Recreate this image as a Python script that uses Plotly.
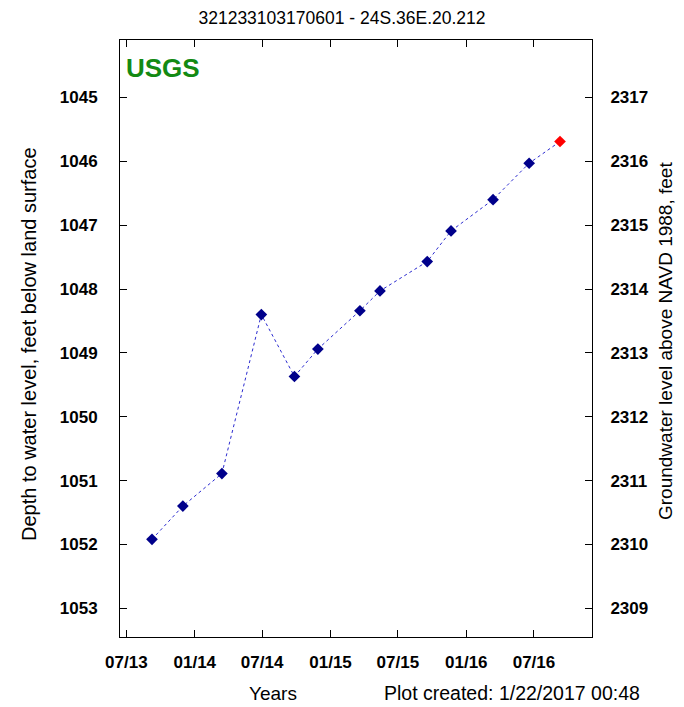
import plotly.graph_objects as go

# Data
dates = ["2013-09-08", "2013-11-30", "2014-03-15", "2014-06-29", "2014-09-26",
         "2014-11-28", "2015-03-21", "2015-05-14", "2015-09-18", "2015-11-21",
         "2016-03-13", "2016-06-18", "2016-09-09"]
depth = [1051.92, 1051.40, 1050.89, 1048.40, 1049.37, 1048.94, 1048.34,
         1048.03, 1047.57, 1047.09, 1046.60, 1046.03, 1045.69]
status = ["A"] * 12 + ["P"]  # last point provisional (red)
land_surface = 3362.0

x_tickvals = ["2013-07-01", "2014-01-01", "2014-07-01", "2015-01-01",
              "2015-07-01", "2016-01-01", "2016-07-01"]
x_ticktext = ["07/13", "01/14", "07/14", "01/15", "07/15", "01/16", "07/16"]
depth_ticks = [1045, 1046, 1047, 1048, 1049, 1050, 1051, 1052, 1053]
elev_ticks = [2309, 2310, 2311, 2312, 2313, 2314, 2315, 2316, 2317]

FONT = "Liberation Sans, Arial, sans-serif"
marker_colors = ["#00008B" if s == "A" else "#FF0000" for s in status]
elevation = [land_surface - d for d in depth]

# page body has an 8px margin; figure content is shifted to compensate
OFF = 8
W, H = 684, 707
ML, MT = 120 - OFF, 40 - OFF
MR = W - (592 - OFF)
MB = H - (637 - OFF)

fig = go.Figure()
fig.add_trace(go.Scatter(
    x=dates, y=depth, mode="lines+markers",
    line=dict(color="#2b2bd0", width=1, dash="dot"),
    marker=dict(symbol="diamond", size=9, color=marker_colors),
    showlegend=False, hoverinfo="x+y"))
fig.add_trace(go.Scatter(
    x=dates, y=elevation, yaxis="y2", mode="lines",
    line=dict(width=0, color="rgba(0,0,0,0)"), showlegend=False, hoverinfo="skip"))

tickfont = dict(family=FONT, size=17, color="black", weight="bold")
d_lo, d_hi = 1053.45, 1044.10
fig.update_layout(
    width=W, height=H,
    margin=dict(l=ML, r=MR, t=MT, b=MB, autoexpand=False),
    paper_bgcolor="white", plot_bgcolor="white",
    font=dict(family=FONT, color="black", size=16),
    title=dict(text="321233103170601 - 24S.36E.20.212",
               x=(342 - OFF) / W, xref="container", xanchor="center",
               y=1 - (18 - OFF) / H, yref="container", yanchor="middle",
               font=dict(family=FONT, size=17.5, color="black")),
    xaxis=dict(type="date", range=["2013-06-14", "2016-12-04"],
               tickvals=x_tickvals, ticktext=x_ticktext,
               ticks="inside", ticklen=7, tickcolor="black",
               showline=True, linecolor="black", linewidth=1, mirror="ticks",
               showgrid=False, zeroline=False,
               tickfont=tickfont, ticklabelstandoff=10),
    yaxis=dict(range=[d_lo, d_hi], tickvals=depth_ticks,
               ticks="inside", ticklen=7, tickcolor="black",
               showline=True, linecolor="black", linewidth=1,
               showgrid=False, zeroline=False,
               tickfont=tickfont, ticklabelstandoff=18),
    yaxis2=dict(overlaying="y", side="right",
                range=[land_surface - d_lo, land_surface - d_hi], tickvals=elev_ticks,
                ticks="inside", ticklen=7, tickcolor="black",
                showline=True, linecolor="black", linewidth=1,
                showgrid=False, zeroline=False,
                tickfont=tickfont, ticklabelstandoff=14),
)

ph = H - MT - MB
pw = W - ML - MR
def px(x):
    return (x - OFF - ML) / pw
def py(y):
    return (H - MB - (y - OFF)) / ph

fig.add_annotation(text="USGS", x=px(124), y=py(68), xref="paper", yref="paper",
                   xanchor="left", yanchor="middle", showarrow=False,
                   font=dict(family=FONT, size=26, color="#138a13", weight="bold"))
fig.add_annotation(text="Depth to water level, feet below land surface",
                   x=px(29), y=py(344), xref="paper", yref="paper", textangle=-90,
                   xanchor="center", yanchor="middle", showarrow=False,
                   font=dict(family=FONT, size=20))
fig.add_annotation(text="Groundwater level above NAVD 1988, feet",
                   x=px(665), y=py(341), xref="paper", yref="paper", textangle=-90,
                   xanchor="center", yanchor="middle", showarrow=False,
                   font=dict(family=FONT, size=19))
fig.add_annotation(text="Years", x=px(273), y=py(693), xref="paper", yref="paper",
                   xanchor="center", yanchor="middle", showarrow=False,
                   font=dict(family=FONT, size=19))
fig.add_annotation(text="Plot created: 1/22/2017 00:48", x=px(512), y=py(693),
                   xref="paper", yref="paper",
                   xanchor="center", yanchor="middle", showarrow=False,
                   font=dict(family=FONT, size=19.5))

fig.write_html("out.html")
